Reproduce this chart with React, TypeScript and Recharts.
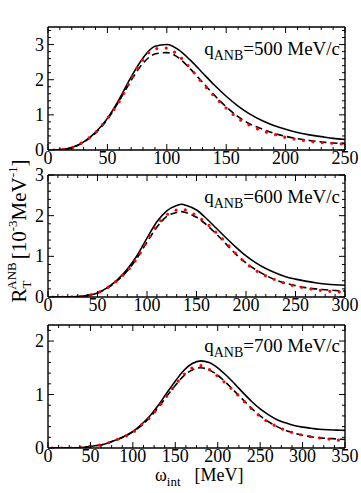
import React from 'react';
import { LineChart, Line, XAxis, YAxis } from 'recharts';

const W = 361;
const H = 493;
const FONT = 'Liberation Serif, Times New Roman, DejaVu Serif, serif';

// q = 500 MeV/c
const omega500 = [5, 10, 20, 30, 40, 50, 60, 70, 80, 90, 100, 110, 120, 130, 140, 150, 160, 170, 180, 190, 200, 210, 220, 230, 240, 250];
const solid500 = [0, 0.01, 0.07, 0.23, 0.5, 0.9, 1.45, 2.08, 2.62, 2.95, 3.0, 2.85, 2.55, 2.2, 1.85, 1.53, 1.25, 1.02, 0.84, 0.7, 0.59, 0.5, 0.43, 0.38, 0.33, 0.3];
const dashed500 = [0, 0.01, 0.06, 0.22, 0.48, 0.87, 1.4, 1.98, 2.47, 2.73, 2.77, 2.62, 2.3, 1.93, 1.56, 1.23, 0.95, 0.74, 0.6, 0.48, 0.39, 0.32, 0.27, 0.23, 0.2, 0.18];
const red500 = [0, 0.01, 0.06, 0.24, 0.5, 0.9, 1.38, 2.02, 2.58, 2.88, 2.9, 2.68, 2.32, 1.9, 1.53, 1.19, 0.9, 0.7, 0.55, 0.45, 0.36, 0.3, 0.25, 0.21, 0.19, 0.17];

// q = 600 MeV/c
const omega600 = [5, 10, 20, 30, 40, 50, 60, 70, 80, 90, 100, 110, 120, 130, 135, 140, 150, 160, 170, 180, 190, 200, 210, 220, 230, 240, 250, 260, 270, 280, 290, 300];
const solid600 = [0, 0, 0, 0.01, 0.04, 0.1, 0.23, 0.42, 0.68, 1.02, 1.45, 1.85, 2.12, 2.25, 2.28, 2.25, 2.14, 1.93, 1.69, 1.45, 1.22, 1.01, 0.84, 0.7, 0.59, 0.5, 0.44, 0.39, 0.35, 0.32, 0.3, 0.29];
const dashed600 = [0, 0, 0, 0.01, 0.04, 0.1, 0.22, 0.4, 0.64, 0.96, 1.35, 1.72, 1.98, 2.08, 2.1, 2.07, 1.96, 1.78, 1.55, 1.3, 1.05, 0.84, 0.67, 0.53, 0.42, 0.34, 0.28, 0.23, 0.2, 0.18, 0.16, 0.15];
const red600 = [0, 0, 0, 0.01, 0.04, 0.1, 0.23, 0.41, 0.64, 0.96, 1.38, 1.76, 2.02, 2.14, 2.16, 2.13, 2.0, 1.82, 1.58, 1.33, 1.06, 0.83, 0.65, 0.52, 0.42, 0.33, 0.27, 0.22, 0.18, 0.15, 0.13, 0.12];

// q = 700 MeV/c
const omega700 = [5, 10, 20, 30, 40, 50, 60, 70, 80, 90, 100, 110, 120, 130, 140, 150, 160, 170, 180, 190, 200, 210, 220, 230, 240, 250, 260, 270, 280, 290, 300, 310, 320, 330, 340, 350];
const solid700 = [0, 0, 0, 0, 0.01, 0.03, 0.05, 0.09, 0.15, 0.22, 0.31, 0.44, 0.6, 0.8, 1.03, 1.25, 1.45, 1.58, 1.63, 1.6, 1.5, 1.36, 1.2, 1.03, 0.87, 0.73, 0.62, 0.53, 0.47, 0.42, 0.39, 0.37, 0.35, 0.34, 0.335, 0.33];
const dashed700 = [0, 0, 0, 0, 0.01, 0.03, 0.05, 0.09, 0.15, 0.21, 0.3, 0.42, 0.57, 0.76, 0.97, 1.17, 1.35, 1.46, 1.5, 1.46, 1.36, 1.22, 1.06, 0.9, 0.74, 0.6, 0.49, 0.4, 0.33, 0.28, 0.24, 0.21, 0.19, 0.18, 0.17, 0.16];
const red700 = [0, 0, 0, 0, 0.01, 0.03, 0.05, 0.09, 0.15, 0.21, 0.29, 0.43, 0.57, 0.76, 0.97, 1.18, 1.37, 1.5, 1.54, 1.47, 1.34, 1.2, 1.05, 0.89, 0.73, 0.59, 0.48, 0.4, 0.33, 0.28, 0.24, 0.21, 0.19, 0.17, 0.15, 0.14];

const qLabels = ['=500 MeV/c', '=600 MeV/c', '=700 MeV/c'];

const buildRows = (xs: number[], s: number[], d: number[], r: number[]) =>
  xs.map((x, i) => ({ x, solid: s[i], dashed: d[i], red: r[i] }));

// tick positions (styling only)
const range = (max: number, step: number) => {
  const out: number[] = [];
  for (let i = 0; i * step <= max + 1e-9; i++) out.push(+(i * step).toFixed(4));
  return out;
};
const isMajor = (v: number, step: number) => Math.abs(v / step - Math.round(v / step)) < 1e-6;

const panels = [
  { top: 27, bottom: 150, xMax: 250, xMinor: 10, yMax: 3.5, yMinor: 0.2, rows: buildRows(omega500, solid500, dashed500, red500), q: qLabels[0], qY: 55 },
  { top: 175, bottom: 297, xMax: 300, xMinor: 10, yMax: 3, yMinor: 0.2, rows: buildRows(omega600, solid600, dashed600, red600), q: qLabels[1], qY: 203 },
  { top: 325, bottom: 448, xMax: 350, xMinor: 12.5, yMax: 2.3, yMinor: 0.2, rows: buildRows(omega700, solid700, dashed700, red700), q: qLabels[2], qY: 352 },
];

const LEFT = 48;
const RIGHT = 345;
const MAJ = 6;
const MIN = 3;

const txt = { fontFamily: FONT, fontSize: 18, fill: '#000' };

const BottomTick = (p: any) => {
  const v = p.payload.value;
  const major = isMajor(v, 50);
  return (
    <g>
      <line x1={p.x} x2={p.x} y1={p.y} y2={p.y - (major ? MAJ : MIN)} stroke="#000" strokeWidth={1} />
      {major && (
        <text x={p.x} y={p.y + 14} textAnchor="middle" style={txt}>{v}</text>
      )}
    </g>
  );
};

const TopTick = (p: any) => {
  const major = isMajor(p.payload.value, 50);
  return <line x1={p.x} x2={p.x} y1={p.y} y2={p.y + (major ? MAJ : MIN)} stroke="#000" strokeWidth={1} />;
};

const LeftTick = (p: any) => {
  const v = p.payload.value;
  const major = isMajor(v, 1);
  return (
    <g>
      <line x1={p.x} x2={p.x + (major ? MAJ : MIN)} y1={p.y} y2={p.y} stroke="#000" strokeWidth={1} />
      {major && (
        <text x={p.x - 4} y={p.y + 6} textAnchor="end" style={txt}>{Math.round(v)}</text>
      )}
    </g>
  );
};

const RightTick = (p: any) => {
  const major = isMajor(p.payload.value, 1);
  return <line x1={p.x} x2={p.x - (major ? MAJ : MIN)} y1={p.y} y2={p.y} stroke="#000" strokeWidth={1} />;
};

const axisLine = { stroke: '#000', strokeWidth: 1.4 };

const Panel = ({ cfg }: { cfg: typeof panels[number] }) => {
  const xTicks = range(cfg.xMax, cfg.xMinor);
  const yTicks = range(cfg.yMax, cfg.yMinor);
  return (
    <div style={{ position: 'absolute', left: 0, top: 0 }}>
      <LineChart
        width={W}
        height={H}
        data={cfg.rows}
        margin={{ top: cfg.top - 1, bottom: H - cfg.bottom - 1, left: LEFT - 1, right: W - RIGHT - 1 }}
      >
        <XAxis dataKey="x" type="number" domain={[0, cfg.xMax]} ticks={xTicks} interval={0} height={1}
          tickSize={0} tickMargin={0} axisLine={axisLine} tickLine={false} tick={BottomTick} allowDataOverflow />
        <XAxis xAxisId="top" orientation="top" dataKey="x" type="number" domain={[0, cfg.xMax]} ticks={xTicks} interval={0}
          height={1} tickSize={0} tickMargin={0} axisLine={axisLine} tickLine={false} tick={TopTick} allowDataOverflow />
        <YAxis type="number" domain={[0, cfg.yMax]} ticks={yTicks} interval={0} width={1}
          tickSize={0} tickMargin={0} axisLine={axisLine} tickLine={false} tick={LeftTick} allowDataOverflow />
        <YAxis yAxisId="right" orientation="right" type="number" domain={[0, cfg.yMax]} ticks={yTicks} interval={0} width={1}
          tickSize={0} tickMargin={0} axisLine={axisLine} tickLine={false} tick={RightTick} allowDataOverflow />
        <Line dataKey="solid" type="monotone" stroke="#000" strokeWidth={1.6} dot={false} isAnimationActive={false} />
        <Line dataKey="dashed" type="monotone" stroke="#000" strokeWidth={1.6} strokeDasharray="7 4" dot={false} isAnimationActive={false} />
        <Line dataKey="red" type="monotone" stroke="#ff0000" strokeWidth={3.2} strokeDasharray="0 9.5" strokeLinecap="round" dot={false} isAnimationActive={false} />
      </LineChart>
    </div>
  );
};

export default function App() {
  return (
    <div style={{ position: 'absolute', left: 0, top: 0, width: W, height: H, background: '#fff' }}>
      {panels.map((p, i) => <Panel key={i} cfg={p} />)}
      <svg width={W} height={H} style={{ position: 'absolute', left: 0, top: 0, pointerEvents: 'none' }}>
        {panels.map((p, i) => (
          <text key={i} x={340} y={p.qY} textAnchor="end" style={{ ...txt, fontSize: 19 }}>
            q<tspan fontSize={14} dy={5}>ANB</tspan><tspan dy={-5}>{p.q}</tspan>
          </text>
        ))}
        <text transform="translate(26,231) rotate(-90)" textAnchor="middle" style={{ ...txt, fontSize: 21 }}>
          R<tspan fontSize={13} dy={5}>T</tspan><tspan fontSize={13} dx={-8} dy={-15}>ANB</tspan>
          <tspan dy={10} dx={3}>[10</tspan><tspan fontSize={13} dy={-9}>-3</tspan><tspan dy={9}>MeV</tspan>
          <tspan fontSize={13} dy={-9}>-1</tspan><tspan dy={9}>]</tspan>
        </text>
        <text x={155} y={481} style={txt}>
          ω<tspan fontSize={13} dy={5}>int</tspan><tspan dy={-5} dx={14}>[MeV]</tspan>
        </text>
      </svg>
    </div>
  );
}
